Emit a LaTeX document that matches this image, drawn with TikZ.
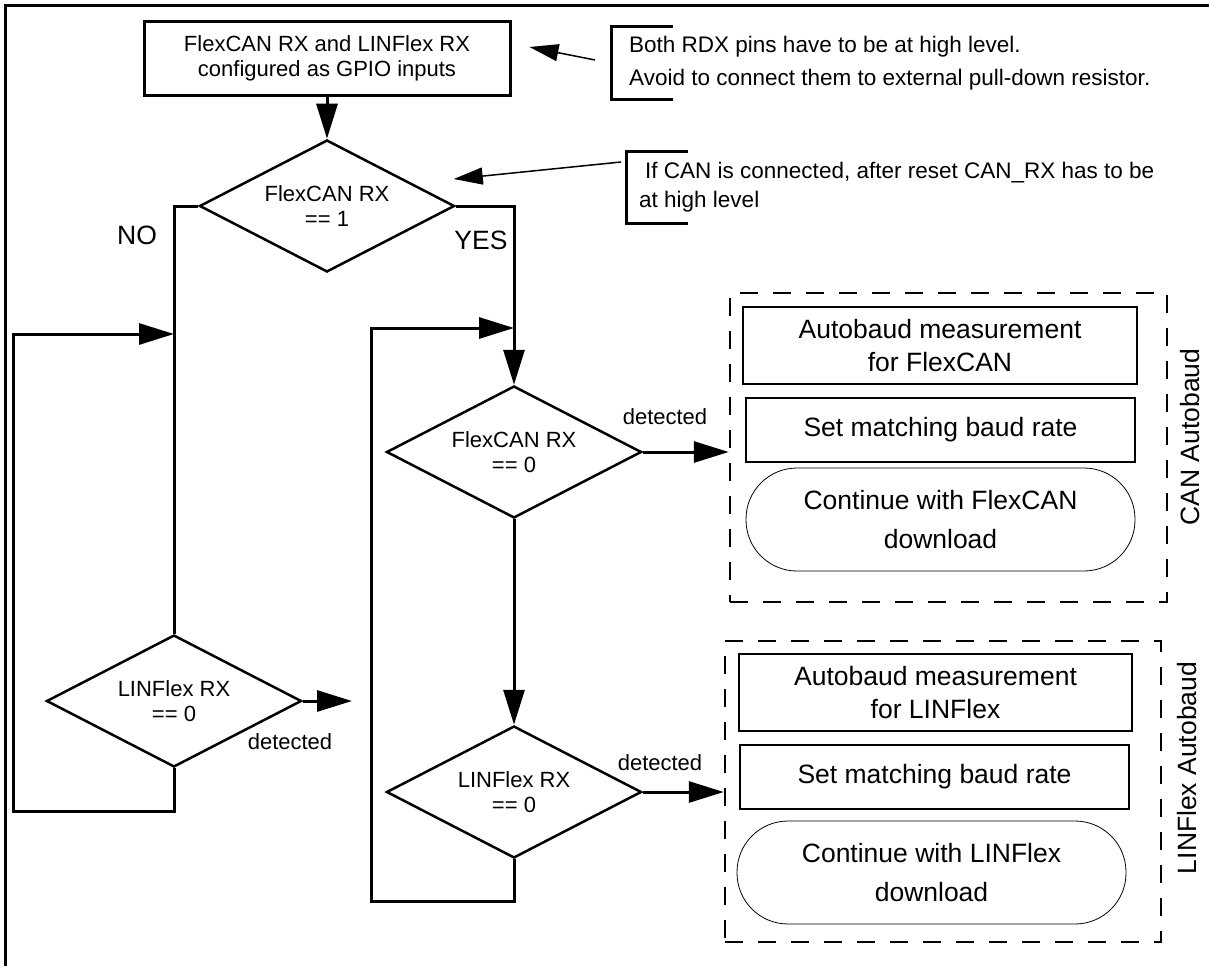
\documentclass[tikz,border=0pt]{standalone}
\usepackage{fontspec}
\setmainfont{Liberation Sans}
\usetikzlibrary{shapes.geometric,arrows.meta}

\newcommand{\txtS}{\fontsize{22}{25}\selectfont}
\newcommand{\txtL}{\fontsize{26.5}{33}\selectfont}

\begin{document}
\begin{tikzpicture}[x=1pt, y={(0pt,-1pt)}, >={Triangle[length=35pt,width=21pt]},
  flow/.style={line width=3pt, ->},
  decision/.style={diamond, draw, line width=2.5pt, aspect=1.94, minimum width=255pt, minimum height=132pt, inner sep=0pt, align=center, font=\txtS},
  stepbox/.style={draw, line width=2pt, inner sep=0pt, align=center, font=\txtL},
  endbox/.style={draw, line width=0.8pt, rounded corners=51pt, inner sep=0pt, align=center, font={\fontsize{26.5}{39}\selectfont}},
  group/.style={draw, dash pattern=on 18pt off 15pt, line width=2.5pt, inner sep=0pt},
  note/.style={anchor=west, align=left, inner xsep=18pt, inner ysep=0pt},
  bracket/.style={line width=3pt},
  pointer/.style={line width=1.5pt, -{Triangle[length=29pt,width=17pt]}}]
  \useasboundingbox (0,0) rectangle (1209,966);
  \draw[line width=3pt] (5,966) -- (5,6) -- (1209,6);

  % main flow
  \node[draw, line width=3pt, minimum width=366pt, minimum height=73pt, inner sep=0pt, align=center, font=\txtS] (init) at (327,58.5) {FlexCAN RX and LINFlex RX\\configured as GPIO inputs};
  \node[decision] (canhigh) at (327,206) {FlexCAN RX\\== 1};
  \node[decision] (linleft) at (174,701) {LINFlex RX\\== 0};
  \node[decision] (canlow) at (514,452) {FlexCAN RX\\== 0};
  \node[decision] (linlow) at (514,792) {LINFlex RX\\== 0};

  \node[font=\txtL] (no) at (137,235) {NO};
  \node[font=\txtL] (yes) at (481,240) {YES};
  \node[font=\txtS] (detleft) at (290,742) {detected};
  \node[font=\txtS] (detcan) at (665,417) {detected};
  \node[font=\txtS] (detlin) at (660,763) {detected};

  % CAN autobaud group
  \node[group, minimum width=437pt, minimum height=309pt] (cangrp) at (948.5,447.5) {};
  \node[stepbox, minimum width=394pt, minimum height=77pt] (canmeas) at (940,345.5) {Autobaud measurement\\for FlexCAN};
  \node[stepbox, minimum width=389pt, minimum height=64pt] (canset) at (940.5,430) {Set matching baud rate};
  \node[endbox, minimum width=389pt, minimum height=103pt] (cango) at (940.5,519.5) {Continue with FlexCAN\\download};
  \node[rotate=90, font=\txtL] (cantitle) at (1190,437) {CAN Autobaud};

  % LINFlex autobaud group
  \node[group, minimum width=436pt, minimum height=301pt] (lingrp) at (943,791.5) {};
  \node[stepbox, minimum width=393pt, minimum height=77pt] (linmeas) at (935.5,692.5) {Autobaud measurement\\for LINFlex};
  \node[stepbox, minimum width=389pt, minimum height=64pt] (linset) at (934.5,777) {Set matching baud rate};
  \node[endbox, minimum width=389pt, minimum height=103pt] (lingo) at (931.5,872.5) {Continue with LINFlex\\download};
  \node[rotate=90, font=\txtL] (lintitle) at (1187,768) {LINFlex Autobaud};

  % notes
  \node[note, minimum height=72pt, font={\fontsize{22.5}{33}\selectfont}] (rdxnote) at (611,63) {Both RDX pins have to be at high level.\\Avoid to connect them to external pull-down resistor.};
  \node[note, minimum height=71pt, inner xsep=13pt, font={\fontsize{22.5}{29}\selectfont}] (cannote) at (626,187.5) {\hspace*{6pt}If CAN is connected, after reset CAN\_RX has to be\\at high level};
  \draw[bracket] ([xshift=62pt]rdxnote.north west) -- (rdxnote.north west) -- (rdxnote.south west) -- ([xshift=62pt]rdxnote.south west);
  \draw[bracket] ([xshift=62pt]cannote.north west) -- (cannote.north west) -- (cannote.south west) -- ([xshift=62pt]cannote.south west);
  \draw[pointer] ([xshift=-16pt,yshift=3pt]rdxnote.west) -- ([xshift=18pt,yshift=11.5pt]init.east);
  \draw[pointer] ([xshift=-5pt,yshift=25.5pt]cannote.west) -- ([xshift=-2pt,yshift=27pt]canhigh.east);

  % connectors
  \coordinate (linout) at (352,701);
  \coordinate (joinL) at (174,334);
  \coordinate (joinR) at (514,328);
  \draw[flow] (init) -- (canhigh);
  \draw[line width=3pt] (canhigh.west) -| (linleft.north);
  \draw[flow] (canhigh.east) -| (canlow.north);
  \draw[flow] (canlow) -- (linlow);
  \draw[flow] (canlow.east) -- (canlow.east -| cangrp.west);
  \draw[flow] (linlow.east) -- (linlow.east -| lingrp.west);
  \draw[flow] (linleft.east) -- (linout);
  \draw[flow] (linleft.south) -- ++(0,43) -| (13,334) -- (joinL);
  \draw[flow] (linlow.south) -- ++(0,42) -| (371,328) -- (joinR);
\end{tikzpicture}
\end{document}
